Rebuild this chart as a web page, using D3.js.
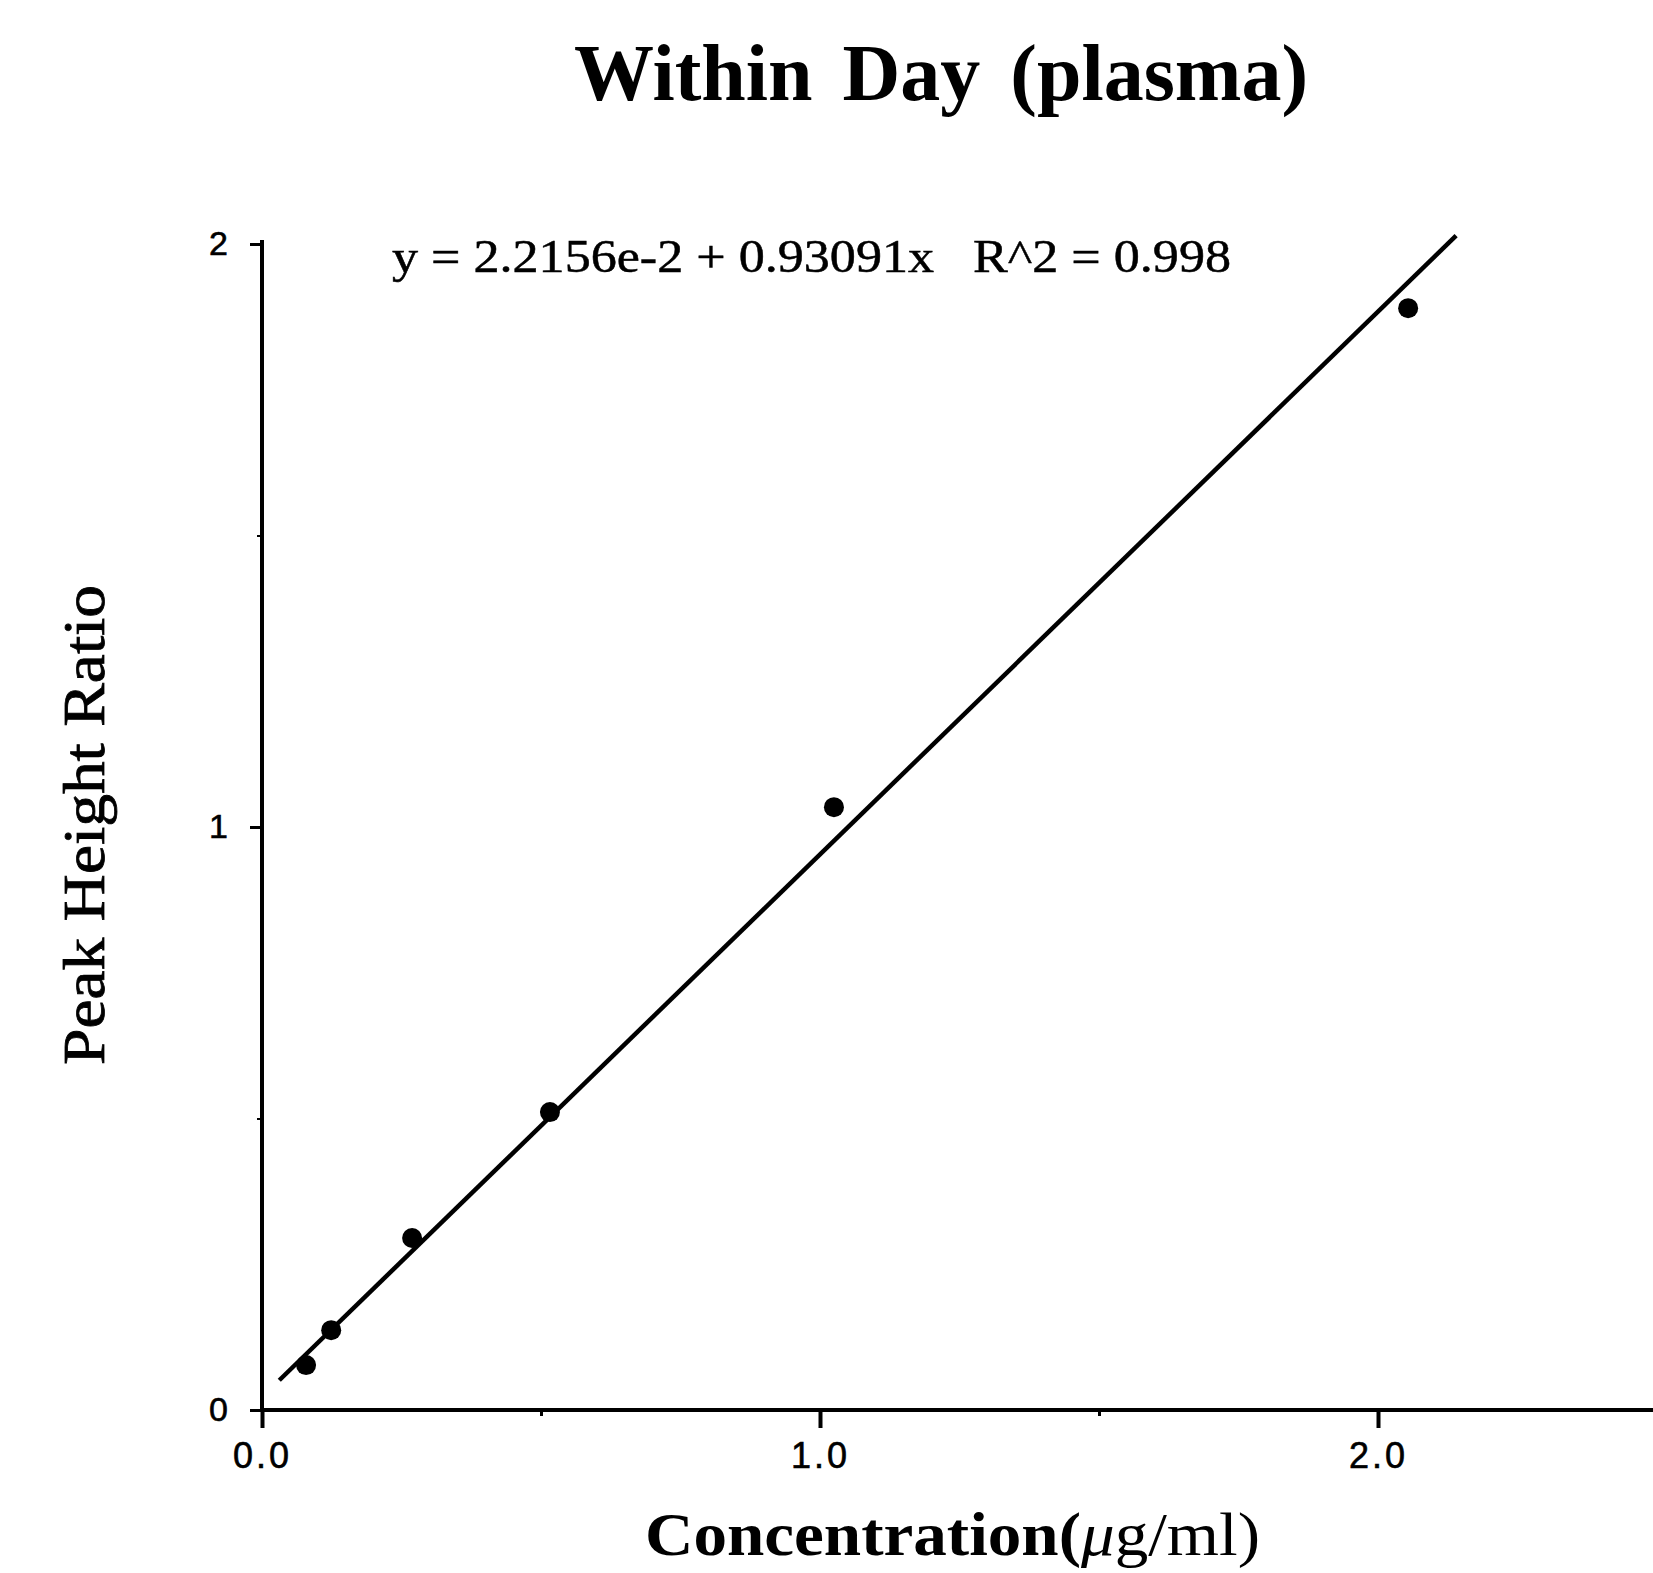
<!doctype html>
<html lang="en">
	<head>
		<meta charset="utf-8" />
		<title>Within Day (plasma)</title>
		<script type="text/javascript" src="https://d3js.org/d3.v7.min.js"></script>
		<style>
			body { margin: 0; background: #fff; }
		</style>
	</head>

	<body>
		<script type="text/javascript">
			// values
			var concentration = [0.079, 0.124, 0.269, 0.516, 1.025, 2.054];
			var peakRatio = [0.077, 0.137, 0.295, 0.511, 1.034, 1.890];
			var fitIntercept = 0.022156;
			var fitSlope = 0.93091;
			var fitRange = [0.031, 2.14];
			var xTickLabels = [0, 1, 2];
			var xMinorTicks = [0.5, 1.5, 2.5];
			var yTickLabels = [0, 1, 2];
			var yMinorTicks = [0.5, 1.5];

			var w = 1653;
			var h = 1573;

			var svg = d3.select("body")
				.append("svg")
				.attr("width", w)
				.attr("height", h);

			var x = d3.scaleLinear().domain([0, 2.5]).range([262, 1657]);
			var y = d3.scaleLinear().domain([0, 2]).range([1410, 244]);

			// title
			svg.append("text")
				.attr("x", 941)
				.attr("y", 100)
				.attr("text-anchor", "middle")
				.attr("font-family", "Liberation Serif")
				.attr("font-weight", "bold")
				.attr("font-size", 80)
				.attr("word-spacing", 10)
				.text("Within Day (plasma)");

			// x axis
			var xAxis = svg.append("g")
				.attr("transform", "translate(0," + y(0) + ")")
				.call(d3.axisBottom(x)
					.tickValues(xTickLabels)
					.tickSize(18)
					.tickPadding(14)
					.tickFormat(d3.format(".1f")));
			xAxis.select(".domain").attr("stroke-width", 4).attr("d", "M" + x(0) + ",0H" + w);
			xAxis.selectAll(".tick line").attr("stroke-width", 4);
			xAxis.selectAll(".tick text")
				.attr("font-family", "Liberation Sans")
				.attr("font-size", 36)
				.attr("letter-spacing", 3)
				.attr("stroke", "#000")
				.attr("stroke-width", 0.6)
				.attr("fill", "#000");

			var xMinor = svg.append("g")
				.attr("transform", "translate(0," + y(0) + ")")
				.call(d3.axisBottom(x).tickValues(xMinorTicks).tickSize(6).tickFormat(""));
			xMinor.select(".domain").remove();
			xMinor.selectAll(".tick line").attr("stroke-width", 3);

			// y axis
			var yAxis = svg.append("g")
				.attr("transform", "translate(" + x(0) + ",0)")
				.call(d3.axisLeft(y)
					.tickValues(yTickLabels)
					.tickSize(12)
					.tickPadding(22)
					.tickFormat(d3.format("d")));
			yAxis.select(".domain").attr("stroke-width", 4).attr("d", "M0," + y(0) + "V" + (y(2) - 4));
			yAxis.selectAll(".tick line").attr("stroke-width", 3);
			yAxis.selectAll(".tick text")
				.attr("font-family", "Liberation Sans")
				.attr("font-size", 34)
				.attr("stroke", "#000")
				.attr("stroke-width", 0.6)
				.attr("fill", "#000");

			var yMinor = svg.append("g")
				.attr("transform", "translate(" + x(0) + ",0)")
				.call(d3.axisLeft(y).tickValues(yMinorTicks).tickSize(5).tickFormat(""));
			yMinor.select(".domain").remove();
			yMinor.selectAll(".tick line").attr("stroke-width", 2);

			// regression line
			var fitLine = d3.line()
				.x(function(d) { return x(d); })
				.y(function(d) { return y(fitIntercept + fitSlope * d); });
			svg.append("path")
				.datum(fitRange)
				.attr("d", fitLine)
				.attr("fill", "none")
				.attr("stroke", "#000")
				.attr("stroke-width", 4.5);

			// points
			svg.selectAll("circle.pt")
				.data(concentration)
				.enter()
				.append("circle")
				.attr("class", "pt")
				.attr("cx", function(d) { return x(d); })
				.attr("cy", function(d, i) { return y(peakRatio[i]); })
				.attr("r", 10)
				.attr("fill", "#000");

			// equation
			svg.append("text")
				.attr("x", 392)
				.attr("y", 272)
				.attr("font-family", "Liberation Serif")
				.attr("font-size", 46)
				.attr("textLength", 839)
				.attr("lengthAdjust", "spacingAndGlyphs")
				.attr("xml:space", "preserve")
				.attr("stroke", "#000")
				.attr("stroke-width", 0.5)
				.text("y = 2.2156e-2 + 0.93091x   R^2 = 0.998");

			// axis titles
			var xTitle = svg.append("text")
				.attr("x", 645)
				.attr("y", 1555)
				.attr("font-family", "Liberation Serif")
				.attr("font-size", 62)
				.attr("textLength", 615)
				.attr("lengthAdjust", "spacingAndGlyphs");
			xTitle.append("tspan").attr("font-weight", "bold").text("Concentration(");
			xTitle.append("tspan").attr("font-style", "italic").text("μ");
			xTitle.append("tspan").text("g/ml)");

			svg.append("text")
				.attr("transform", "translate(104,825) rotate(-90)")
				.attr("text-anchor", "middle")
				.attr("font-family", "Liberation Serif")
				.attr("font-size", 60)
				.attr("textLength", 480)
				.attr("lengthAdjust", "spacingAndGlyphs")
				.attr("stroke", "#000")
				.attr("stroke-width", 0.8)
				.text("Peak Height Ratio");
		</script>
	</body>
</html>
